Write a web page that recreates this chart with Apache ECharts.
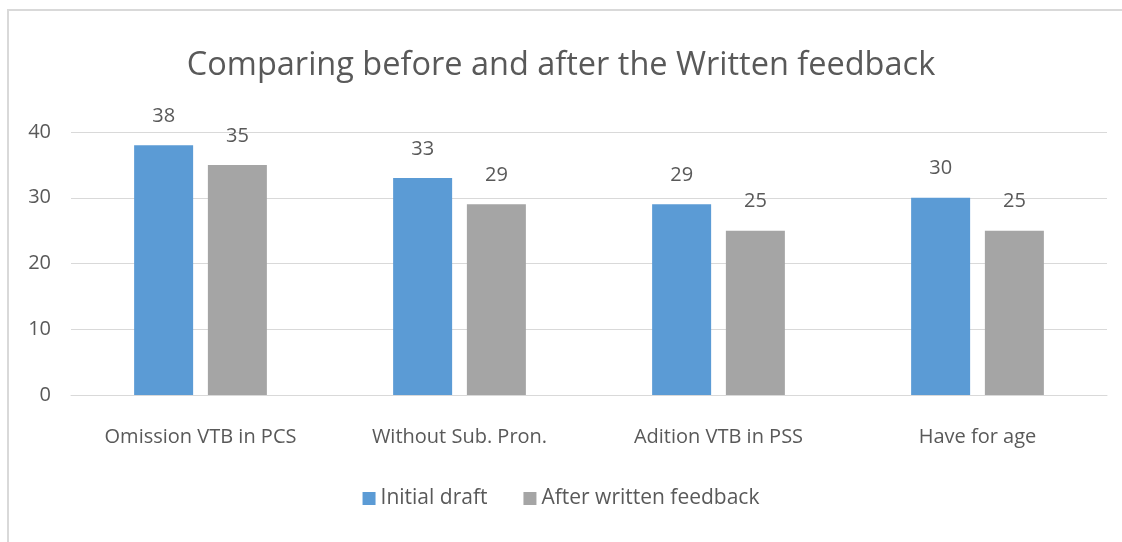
<!DOCTYPE html>
<html>
<head>
<meta charset="utf-8">
<script src="https://cdn.jsdelivr.net/npm/echarts@6/dist/echarts.min.js"></script>
<style>
  html, body { margin: 0; padding: 0; background: #fff; overflow: hidden; }
  #wrap { position: relative; width: 1122px; height: 542px; }
  #frame {
    position: absolute; left: 7px; top: 9px; width: 1300px; height: 700px;
    border: 2px solid #d9d9d9;
  }
  #chart { position: absolute; left: 0; top: 0; width: 1122px; height: 542px; }
</style>
</head>
<body>
<div id="wrap">
  <div id="frame"></div>
  <div id="chart"></div>
</div>
<script>
const categories = ['Omission VTB in PCS', 'Without Sub. Pron.', 'Adition VTB in PSS', 'Have for age'];
const initialDraft = [38, 33, 29, 30];
const afterFeedback = [35, 29, 25, 25];
const seriesNames = ['Initial draft', 'After written feedback'];

const font = '"Open Sans", "Noto Sans", sans-serif';
const textColor = '#595959';

const chart = echarts.init(document.getElementById('chart'));
chart.setOption({
  animation: false,
  backgroundColor: 'transparent',
  title: {
    text: 'Comparing before and after the Written feedback',
    left: 'center',
    top: 44,
    textStyle: { fontFamily: font, fontSize: 32.5, fontWeight: 'normal', color: textColor }
  },
  legend: {
    bottom: 28,
    left: 'center',
    itemWidth: 13,
    itemHeight: 13,
    itemGap: 36,
    icon: 'rect',
    textStyle: { fontFamily: font, fontSize: 21, color: textColor }
  },
  grid: { left: 71, right: 15, top: 132, bottom: 147 },
  xAxis: {
    type: 'category',
    data: categories,
    axisLine: { lineStyle: { color: '#d9d9d9', width: 1 } },
    axisTick: { show: false },
    axisLabel: { fontFamily: font, fontSize: 20, color: textColor, margin: 32 }
  },
  yAxis: {
    type: 'value',
    min: 0,
    max: 40,
    interval: 10,
    axisLine: { show: false },
    axisTick: { show: false },
    axisLabel: { fontFamily: font, fontSize: 20, color: textColor, margin: 20 },
    splitLine: { lineStyle: { color: '#d9d9d9', width: 1 } }
  },
  series: [
    {
      name: seriesNames[0],
      type: 'bar',
      data: initialDraft,
      barWidth: 59,
      barGap: '25%',
      itemStyle: { color: '#5b9bd5' },
      label: { show: true, position: 'top', distance: 19, fontFamily: font, fontSize: 20, color: textColor }
    },
    {
      name: seriesNames[1],
      type: 'bar',
      data: afterFeedback,
      barWidth: 59,
      barGap: '25%',
      itemStyle: { color: '#a5a5a5' },
      label: { show: true, position: 'top', distance: 19, fontFamily: font, fontSize: 20, color: textColor }
    }
  ]
});
</script>
</body>
</html>
